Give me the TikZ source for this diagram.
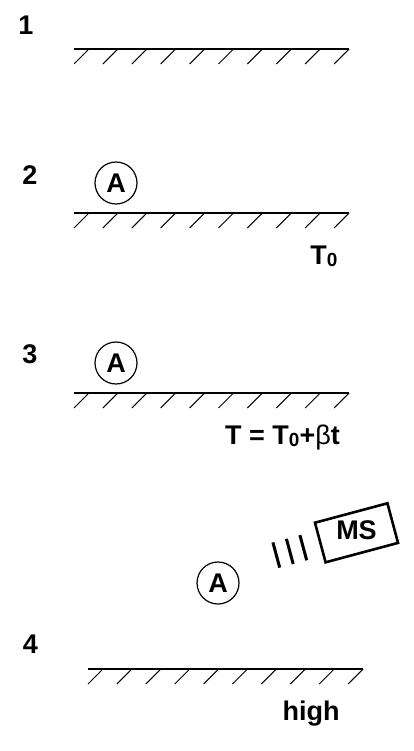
\documentclass[tikz,border=0pt]{standalone}
\usepackage{fontspec}
\setmainfont{Liberation Sans}
\usetikzlibrary{positioning}
\tikzset{
  ground/.style    = {line width=1.3pt},
  hatch/.style     = {line width=1pt},
  probe/.style     = {circle, draw, line width=1.2pt, minimum size=42pt, inner sep=0pt, font=\fontsize{27}{27}\selectfont\bfseries},
  stagenum/.style  = {anchor=base, inner sep=0pt, font=\fontsize{27}{27}\selectfont\bfseries},
  templabel/.style = {anchor=base, inner sep=0pt, font=\fontsize{27}{27}\selectfont\bfseries},
  msbox/.style     = {draw, line width=2.6pt, minimum width=75pt, minimum height=41pt, inner sep=0pt, rotate=15},
  mstext/.style    = {inner sep=0pt, font=\fontsize{27}{27}\selectfont\bfseries},
  ray/.style       = {line width=3pt},
}
\newcommand{\subnull}{{\fontsize{19}{19}\selectfont\raisebox{-2pt}{0}}}

\begin{document}
\begin{tikzpicture}[x=1pt, y=-1pt]
  \useasboundingbox (0,0) rectangle (413,751);

  % ground lines with hatching
  \foreach \gx/\gy in {74/49, 74/213, 74/393, 88/669} {
    \draw[ground] (\gx,\gy) -- ++(275,0);
    \foreach \k in {0,...,9}
      \draw[hatch] (\gx+28.9*\k,\gy+15) -- ++(15,-15);
  }

  % stage numbers
  \node[stagenum] (num1) at (26,34.3) {1};
  \node[stagenum] (num2) at (30,185) {2};
  \node[stagenum] (num3) at (30,363.3) {3};
  \node[stagenum] (num4) at (30.5,653.3) {4};

  % adsorbate
  \node[probe] (adsA2) at (116,183) {A};
  \node[probe] (adsA3) at (116,363) {A};
  \node[probe] (adsA4) at (218,583) {A};

  % temperatures
  \node[templabel] (tzero) at (324,264.3) {T\subnull};
  \node[templabel] (tramp) at (282.5,444.3) {T = T\subnull+{\mdseries β}t};
  \node[templabel] (thigh) at (311,720) {high};

  % mass spectrometer
  \node[msbox] (ms) at (356.5,532.8) {};
  \node[mstext] (mslabel) at (356.5,530) {MS};
  \draw[ray] (272.9,542.4) -- (279.7,567.6);
  \draw[ray] (286.4,538.8) -- (293.2,564.0);
  \draw[ray] (299.9,535.1) -- (306.7,560.3);

\end{tikzpicture}
\end{document}
